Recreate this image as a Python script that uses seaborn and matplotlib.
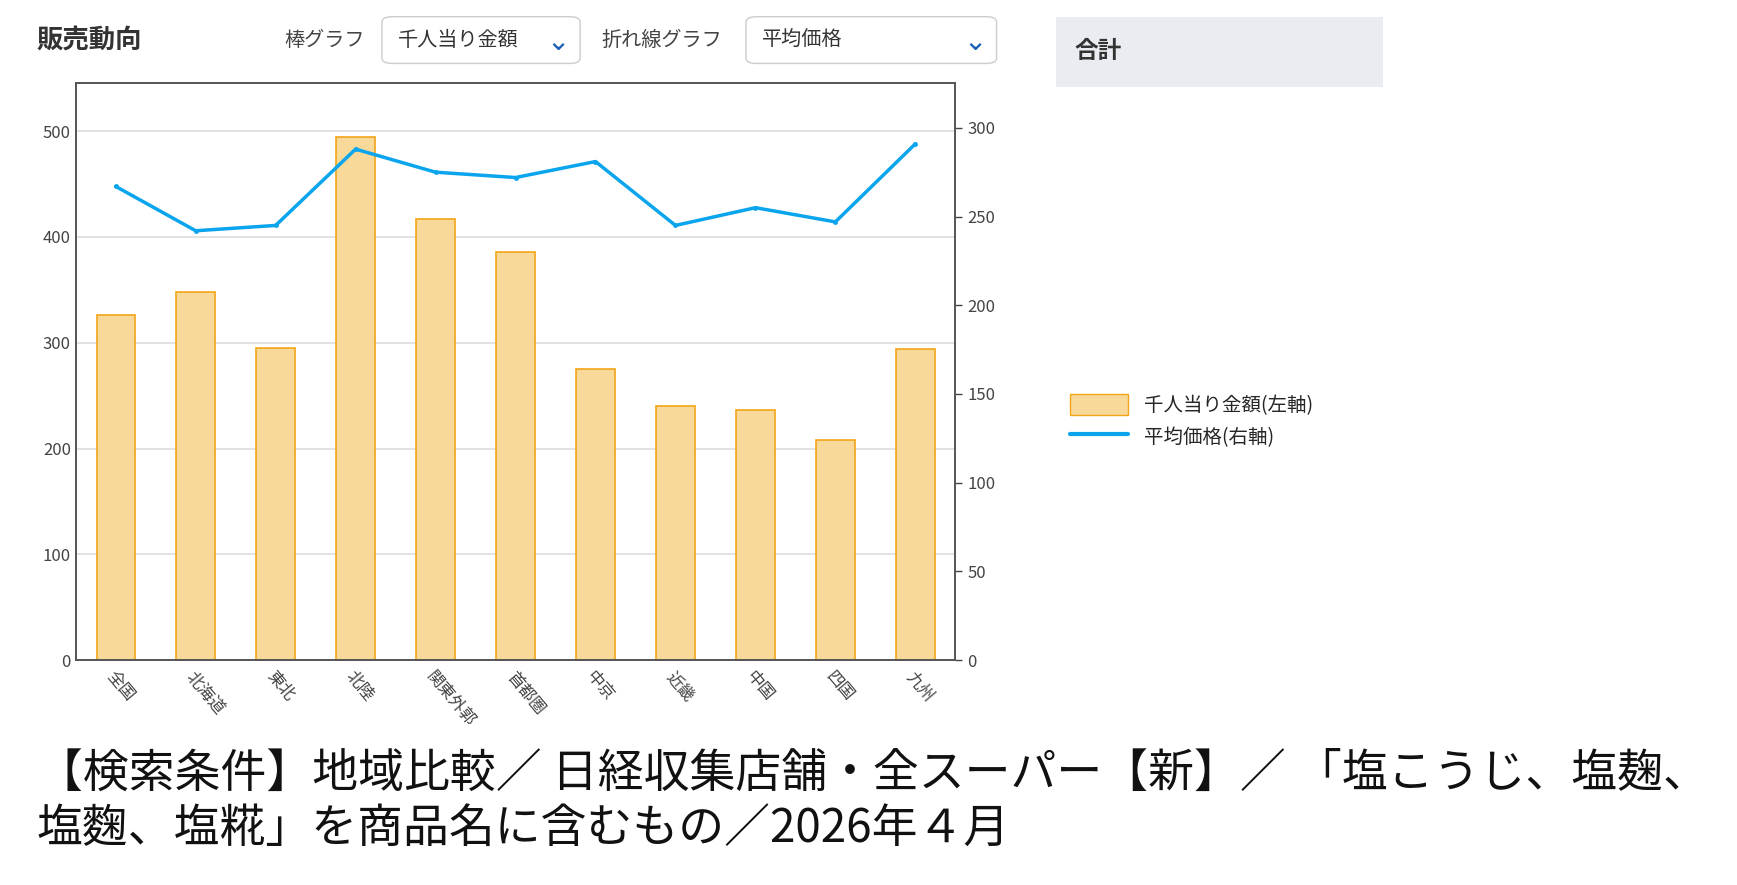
import matplotlib.pyplot as plt
import seaborn as sns
import pandas as pd
from matplotlib.patches import FancyBboxPatch, Rectangle
from matplotlib.lines import Line2D

regions = ['全国', '北海道', '東北', '北陸', '関東外郭', '首都圏', '中京', '近畿', '中国', '四国', '九州']
amount_per_1000 = [326, 348, 295, 494, 417, 386, 275, 240, 236, 208, 294]
avg_price = [267, 242, 245, 288, 275, 272, 281, 245, 255, 247, 291]

sns.set_theme(style='white')
plt.rcParams['font.family'] = ['Noto Sans CJK JP', 'DejaVu Sans']

W, H = 1560, 795  # layout grid in reference pixels
fig = plt.figure(figsize=(17.37, 8.85), dpi=100)

def fx(x): return x / W
def fy(y): return 1 - y / H

ax = fig.add_axes([fx(68), fy(593), fx(858 - 68), fy(75) - fy(593)])
df = pd.DataFrame({'region': regions, 'amount': amount_per_1000, 'price': avg_price})
sns.barplot(data=df, x='region', y='amount', ax=ax, color='#f9d99a', edgecolor='#f2a516',
            linewidth=1.2, width=0.48, saturation=1)
ax.set_ylim(0, 545)
ax.set_yticks([0, 100, 200, 300, 400, 500])
ax.yaxis.grid(True, color='#dddddd', linewidth=1.2)
ax.set_axisbelow(True)
ax.set_xlabel('')
ax.set_ylabel('')
ax.tick_params(axis='y', labelsize=12, colors='#444444', length=0)
ax.set_xticks(range(len(regions)))
ax.set_xticklabels(regions, rotation=-50, ha='left', rotation_mode='anchor', fontsize=12, color='#444444')
ax.tick_params(axis='x', length=0, pad=6)
ax.set_xlim(-0.5, len(regions) - 0.5)
for s in ax.spines.values():
    s.set_color('#555555')
    s.set_linewidth(1.2)

ax2 = ax.twinx()
sns.lineplot(data=df, x='region', y='price', ax=ax2, color='#0aa5ec', linewidth=2.5,
             marker='o', markersize=3.5, markeredgewidth=0)
ax2.set_ylim(0, 325)
ax2.set_yticks([0, 50, 100, 150, 200, 250, 300])
ax2.set_ylabel('')
ax2.tick_params(axis='y', labelsize=12, colors='#444444', length=5, width=1, direction='out', right=True)
for s in ax2.spines.values():
    s.set_color('#555555')
    s.set_linewidth(1.2)

# header
fig.text(fx(33), fy(36), '販売動向', fontsize=19, fontweight='bold', color='#333333', va='center')
fig.text(fx(255), fy(36), '棒グラフ', fontsize=14.5, color='#444444', va='center')
fig.text(fx(540), fy(36), '折れ線グラフ', fontsize=14.5, color='#444444', va='center')
for x0, x1, label in [(343, 521, '千人当り金額'), (670, 895, '平均価格')]:
    fig.patches.append(FancyBboxPatch((fx(x0), fy(57)), fx(x1 - x0), fy(15) - fy(57),
                                      boxstyle='round,pad=0,rounding_size=0.006', transform=fig.transFigure,
                                      facecolor='white', edgecolor='#cccccc', linewidth=1))
    fig.text(fx(x0 + 14), fy(36), label, fontsize=14.5, color='#333333', va='center')
    fig.text(fx(x1 - 30), fy(38), '⌄', fontsize=20, color='#1a5fb4', va='center', family=['DejaVu Sans'])

fig.patches.append(Rectangle((fx(948), fy(78)), fx(1242 - 948), fy(15) - fy(78),
                             transform=fig.transFigure, facecolor='#e9ecf1', edgecolor='none'))
fig.text(fx(965), fy(46), '合計', fontsize=17, fontweight='bold', color='#333333', va='center')

# legend
handles = [Rectangle((0, 0), 1, 1, facecolor='#f9d99a', edgecolor='#f2a516'),
           Line2D([0], [0], color='#0aa5ec', linewidth=3)]
fig.legend(handles, ['千人当り金額(左軸)', '平均価格(右軸)'], loc='upper left',
           bbox_to_anchor=(fx(945), fy(338)), frameon=False, fontsize=14,
           handlelength=3, handleheight=1.3, labelspacing=0.5)

# caption
fig.text(fx(33), fy(695), '【検索条件】地域比較／ 日経収集店舗・全スーパー【新】／ 「塩こうじ、塩麹、',
         fontsize=33, color='#111111', va='center')
fig.text(fx(33), fy(745), '塩麴、塩糀」を商品名に含むもの／2026年４月',
         fontsize=33, color='#111111', va='center')

fig.savefig('out.png', dpi=100, facecolor='white')
